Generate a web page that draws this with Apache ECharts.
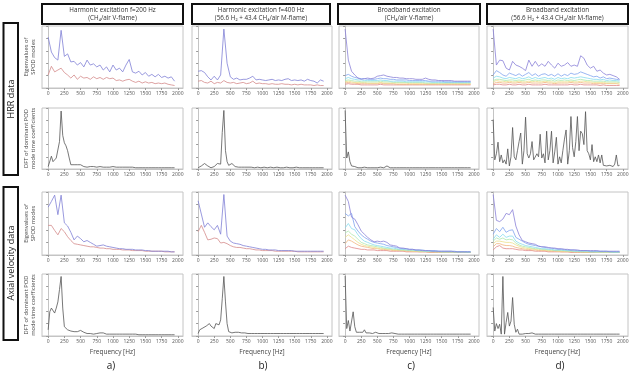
<!DOCTYPE html>
<html><head><meta charset="utf-8">
<script src="https://cdn.jsdelivr.net/npm/echarts@6/dist/echarts.min.js"></script>
<style>html,body{margin:0;padding:0;background:#fff}#c{width:635px;height:374px}</style>
</head><body><div id="c"></div>
<script>
// ---------------- data ----------------
const FREQ_SPOD = [0,50,100,150,200,250,300,350,400,450,500,550,600,650,700,750,800,850,900,950,1000,1050,1100,1150,1200,1250,1300,1350,1400,1450,1500,1550,1600,1650,1700,1750,1800,1850,1900,1950];
const FREQ_DFT = [0,25,50,75,100,125,150,175,200,225,250,275,300,325,350,375,400,425,450,475,500,525,550,575,600,625,650,675,700,725,750,775,800,825,850,875,900,925,950,975,1000,1025,1050,1075,1100,1125,1150,1175,1200,1225,1250,1275,1300,1325,1350,1375,1400,1425,1450,1475,1500,1525,1550,1575,1600,1625,1650,1675,1700,1725,1750,1775,1800,1825,1850,1875,1900,1925,1950];
const X_TICKS = [0,250,500,750,1000,1250,1500,1750,2000];

const COLUMN_TITLES = [
  'Harmonic excitation f=200 Hz\n(CH\u2084/air V-flame)',
  'Harmonic excitation f=400 Hz\n(56.6 H\u2082 + 43.4 CH\u2084/air M-flame)',
  'Broadband excitation\n(CH\u2084/air V-flame)',
  'Broadband excitation\n(56.6 H\u2082 + 43.4 CH\u2084/air M-flame)'
];
const ROW_GROUP_LABELS = ['HRR data', 'Axial velocity data'];
const Y_LABELS = ['Eigenvalues of\nSPOD modes', 'DFT of dominant POD\nmode time coefficients'];
const X_NAME = 'Frequency [Hz]';
const PANEL_LETTERS = ['a)', 'b)', 'c)', 'd)'];

// Row 1: SPOD eigenvalues, HRR
const A1_M1 = [82,58,49,45,93,51,55,42,43,37,41,34,45,37,39,34,37,29,34,26,37,29,32,26,37,46,26,24,27,21,25,19,22,18,22,17,19,16,18,11];
const A1_M2 = [21,35,26,29,32,25,21,16,21,14,19,16,17,14,18,15,17,14,17,15,16,12,13,11,13,14,11,9,11,8,10,8,9,7,8,7,8,6,5,4];
const B1_M1 = [27,28,25,18,13,19,13,21,95,40,18,14,16,13,14,14,16,19,13,14,13,12,13,14,12,13,12,14,15,12,13,12,13,11,14,12,11,8,13,11];
const B1_M2 = [11,12,9,8,11,7,9,8,12,9,8,9,7,8,9,7,8,11,7,8,7,7,6,7,6,6,7,6,6,5,6,5,6,5,5,5,4,5,4,4];
const C1_M1 = [95,45,27,21,16,14,15,16,15,16,19,20,21,19,18,17,17,16,16,15,15,15,14,14,14,16,14,13,13,12,12,12,12,12,11,11,11,11,11,11];
const C1_M2 = [20,22,19,17,16,15,15,14,14,14,15,16,15,15,14,14,13,13,13,13,12,12,12,12,12,12,11,11,11,11,11,10,10,10,10,10,10,10,10,10];
const C1_M3 = [15,17,15,14,13,13,12,12,12,12,12,13,12,12,11,11,11,11,11,10,10,10,10,10,10,10,10,9,9,9,9,9,9,9,9,9,9,9,9,9];
const C1_M4 = [12,13,12,11,11,10,10,10,10,10,10,11,10,10,10,9,9,9,9,9,9,9,9,9,9,8,8,8,8,8,8,8,8,8,8,8,8,8,8,8];
const C1_M5 = [10,11,10,9,9,9,9,8,8,8,8,9,8,8,8,8,8,8,8,8,7,7,7,7,7,7,7,7,7,7,7,7,7,7,7,7,7,7,7,7];
const C1_M6 = [8,9,8,8,7,7,7,7,7,7,7,8,7,7,7,7,6,6,6,6,6,6,6,6,6,6,6,6,6,6,6,6,6,6,6,6,6,6,6,6];
const C1_M7 = [6,7,6,6,6,5,5,5,5,5,5,6,5,5,5,5,5,5,5,5,5,5,5,5,5,5,5,5,5,5,5,5,5,5,5,5,5,5,5,5];
const D1_M1 = [95,37,45,44,32,29,43,37,35,32,28,45,35,43,35,39,35,43,37,32,40,35,37,41,35,37,35,52,48,37,32,35,27,29,24,21,22,20,18,14];
const D1_M2 = [21,28,25,21,19,24,22,20,23,19,22,25,20,23,19,22,23,20,22,19,23,19,22,20,24,22,23,26,24,22,20,18,19,16,18,15,16,15,14,13];
const D1_M3 = [16,19,18,16,15,17,16,15,17,15,16,18,15,17,15,16,17,15,16,14,17,15,16,15,17,16,17,18,17,16,15,14,14,13,14,12,13,12,12,11];
const D1_M4 = [12,14,14,13,12,13,13,12,13,12,13,14,12,13,12,13,13,12,13,11,13,12,13,12,13,12,13,14,13,12,12,11,11,11,11,10,10,10,10,9];
const D1_M5 = [10,12,11,11,10,11,10,10,11,10,10,11,10,11,10,10,11,10,10,9,10,10,10,10,11,10,10,11,11,10,10,9,9,9,9,8,8,8,8,8];
const D1_M6 = [7,9,9,8,8,9,8,8,9,8,8,9,8,8,8,8,9,8,8,7,8,8,8,8,9,8,8,9,8,8,8,7,7,7,7,7,7,7,7,6];
const D1_M7 = [5,6,6,5,5,6,5,5,6,5,5,6,5,5,5,5,6,5,5,5,5,5,5,5,6,5,5,6,5,5,5,5,5,4,5,4,4,4,4,4];

// Row 2: DFT, HRR
const A2_DFT = [4,5,21,12,10,18,15,45,95,55,43,38,30,18,7,7,7,7,7,7,7,6,4,3,3,3,4,5,4,3,3,3,4,3,3,4,3,3,3,3,4,3,3,3,3,3,3,3,3,4,3,3,3,2,2,2,2,2,2,2,2,2,2,2,2,2,2,2,2,2,2,2,2,2,2,2,2,2,2];
const B2_DFT = [2,3,5,7,9,7,5,3,2,3,4,6,9,6,8,60,96,30,12,6,8,9,6,4,4,3,3,3,3,3,2,3,3,3,2,2,3,3,2,2,3,3,2,2,3,3,2,2,3,3,3,2,2,2,3,3,3,2,2,2,2,3,2,2,2,2,2,2,2,2,2,2,2,2,2,2,2,2,2];
const C2_DFT = [96,18,28,12,5,4,4,3,2,3,2,2,3,2,2,2,2,2,2,2,2,2,3,4,2,2,5,2,2,2,2,2,2,2,2,2,2,2,2,2,2,2,2,2,2,2,2,2,2,2,2,2,2,2,2,2,2,2,2,2,2,2,2,2,2,2,2,2,2,2,2,2,2,2,2,2,2,2,2];
const D2_DFT = [81,15,25,44,12,23,10,15,8,33,5,20,68,20,15,30,45,59,8,30,85,25,18,25,45,15,12,25,20,57,18,25,10,62,15,30,62,10,28,52,8,20,10,30,49,64,8,30,86,35,20,45,86,30,62,58,40,94,30,25,15,40,12,20,12,23,10,23,6,8,5,4,6,5,4,8,23,5,6];

// Row 3: SPOD eigenvalues, axial velocity
const A3_M1 = [76,85,95,64,95,51,46,36,24,30,26,21,23,20,17,14,15,16,14,13,12,11,10,10,9,9,9,8,8,8,7,7,6,6,6,6,6,6,5,5];
const A3_M2 = [47,47,39,32,42,37,29,23,18,17,16,15,14,13,13,12,11,11,10,10,9,9,9,8,8,8,7,7,7,7,6,6,6,6,6,6,5,5,5,5];
const B3_M1 = [86,65,44,51,45,40,47,33,96,30,22,19,18,17,15,14,13,12,11,10,9,9,8,8,8,7,7,7,7,7,6,6,6,6,6,6,6,6,6,6];
const B3_M2 = [37,47,36,24,25,27,26,19,20,18,15,13,12,12,11,10,10,9,8,8,7,7,7,7,6,6,6,6,6,6,6,5,5,5,5,5,5,5,5,5];
const C3_M1 = [95,85,60,57,48,38,33,28,24,21,22,21,22,20,16,15,14,11,11,10,9,9,8,8,7,7,7,6,6,6,6,6,6,6,5,5,5,5,5,5];
const C3_M2 = [66,62,66,45,38,32,28,25,22,20,19,18,17,15,14,13,12,11,10,10,9,9,8,8,8,7,7,7,7,6,6,6,6,6,6,5,5,5,5,5];
const C3_M3 = [43,50,42,40,32,26,22,20,18,16,15,14,13,12,11,11,10,9,9,8,8,8,7,7,7,6,6,6,6,6,5,5,5,5,5,5,5,5,5,5];
const C3_M4 = [35,38,33,30,25,20,18,16,15,14,13,12,11,10,10,9,9,8,8,8,7,7,7,6,6,6,6,6,5,5,5,5,5,5,5,5,5,5,4,4];
const C3_M5 = [28,32,28,24,20,17,15,14,13,12,11,10,10,9,9,8,8,8,7,7,7,6,6,6,6,6,5,5,5,5,5,5,5,5,4,4,4,4,4,4];
const C3_M6 = [18,24,22,19,16,14,13,12,11,10,10,9,9,8,8,7,7,7,7,6,6,6,6,5,5,5,5,5,5,5,4,4,4,4,4,4,4,4,4,4];
const C3_M7 = [10,14,12,11,10,9,9,8,8,8,7,7,7,7,6,6,6,6,6,5,5,5,5,5,5,5,4,4,4,4,4,4,4,4,4,4,4,4,4,4];
const D3_M1 = [96,55,53,57,66,64,72,46,32,23,21,19,18,17,14,13,13,12,11,11,10,10,9,9,8,8,8,7,7,7,7,7,7,6,6,6,6,6,6,6];
const D3_M2 = [33,42,37,44,36,39,40,28,25,22,19,17,16,15,14,13,12,11,11,10,9,9,9,8,8,8,7,7,7,7,6,6,6,6,6,6,5,5,5,5];
const D3_M3 = [25,32,28,33,28,30,30,22,19,17,15,14,13,12,11,10,10,9,9,8,8,8,7,7,7,6,6,6,6,6,5,5,5,5,5,5,5,5,5,5];
const D3_M4 = [22,27,25,27,24,25,24,19,16,14,13,12,11,10,10,9,9,8,8,7,7,7,7,6,6,6,6,5,5,5,5,5,5,5,5,5,5,4,4,4];
const D3_M5 = [18,22,22,21,20,20,19,16,14,12,11,10,10,9,9,8,8,7,7,7,6,6,6,6,6,5,5,5,5,5,5,5,4,4,4,4,4,4,4,4];
const D3_M6 = [13,18,18,16,15,15,14,12,11,10,9,9,8,8,7,7,7,6,6,6,6,5,5,5,5,5,5,5,4,4,4,4,4,4,4,4,4,4,4,4];
const D3_M7 = [8,13,15,11,10,10,10,9,8,8,7,7,7,6,6,6,6,5,5,5,5,5,5,5,4,4,4,4,4,4,4,4,4,4,4,4,4,4,4,4];

// Row 4: DFT, axial velocity
const A4_DFT = [10,39,45,44,37,45,55,75,96,45,15,12,10,9,8,7,7,6,7,8,9,8,6,5,4,4,4,3,3,4,4,4,5,5,5,4,3,3,3,3,3,3,3,3,3,3,3,3,3,3,3,3,3,3,3,3,2,2,2,2,2,2,2,2,2,2,2,2,2,2,2,2,2,2,2,2,2,2,2];
const B4_DFT = [4,10,12,13,14,16,18,20,16,14,12,20,19,18,26,60,96,55,20,7,5,5,5,6,6,6,5,5,5,5,4,4,4,4,4,4,4,4,4,4,4,4,4,4,4,4,4,4,4,4,4,4,4,4,4,4,4,4,4,4,4,4,4,4,4,4,4,4,4,4,4,4,4,4,4,4,4,4,4];
const C4_DFT = [97,12,25,8,7,39,15,6,5,6,7,6,10,5,6,5,5,4,5,6,5,4,5,4,4,4,5,4,4,5,6,4,3,3,3,3,3,3,3,3,3,3,3,3,3,3,3,3,3,3,3,3,3,3,3,3,3,3,3,3,3,3,3,3,3,3,3,3,3,3,3,3,3,3,3,3,3,3,3];
const D4_DFT = [46,8,20,12,19,3,96,3,22,38,16,24,62,19,6,11,3,4,3,3,4,3,4,6,5,3,3,3,3,3,3,3,3,3,3,3,3,3,3,3,3,3,3,3,3,3,3,3,3,3,3,3,3,3,3,3,3,3,3,3,3,3,3,3,3,3,3,3,3,3,3,3,3,3,3,3,3,3,3];

// ---------------- styling / layout ----------------
const HARM_COLORS = ['#8080d6', '#d48a8a'];
const BB_COLORS = ['#8a82d8', '#7fa3ef', '#88dcef', '#ade9b0', '#ece08c', '#f1b57e', '#df8888'];
const DFT_COLOR = '#555555';

const COLS = [{left: 42, width: 141}, {left: 192, width: 140}, {left: 339, width: 140}, {left: 487, width: 141}];
const ROWS = [{top: 26, height: 62}, {top: 108, height: 61}, {top: 192, height: 63}, {top: 274, height: 62}];

const PANEL_SERIES = [
  [[A1_M1, A1_M2], [B1_M1, B1_M2], [C1_M1, C1_M2, C1_M3, C1_M4, C1_M5, C1_M6, C1_M7], [D1_M1, D1_M2, D1_M3, D1_M4, D1_M5, D1_M6, D1_M7]],
  [[A2_DFT], [B2_DFT], [C2_DFT], [D2_DFT]],
  [[A3_M1, A3_M2], [B3_M1, B3_M2], [C3_M1, C3_M2, C3_M3, C3_M4, C3_M5, C3_M6, C3_M7], [D3_M1, D3_M2, D3_M3, D3_M4, D3_M5, D3_M6, D3_M7]],
  [[A4_DFT], [B4_DFT], [C4_DFT], [D4_DFT]]
];

function zip(xs, ys) { return ys.map((v, i) => [xs[i], v]); }

const FONT = '"Open Sans", "DejaVu Sans", sans-serif';
const grids = [], xAxes = [], yAxes = [], series = [];
for (let r = 0; r < 4; r++) {
  for (let c = 0; c < 4; c++) {
    const idx = r * 4 + c;
    grids.push({left: COLS[c].left, top: ROWS[r].top, width: COLS[c].width, height: ROWS[r].height,
      show: true, borderColor: '#c4c4c4', borderWidth: 1, backgroundColor: '#fff'});
    xAxes.push({gridIndex: idx, type: 'value', min: -95, max: 2080,
      axisLine: {show: true, lineStyle: {color: '#c4c4c4', width: 1}},
      axisTick: {show: true, customValues: X_TICKS, length: 2, lineStyle: {color: '#999'}},
      axisLabel: {customValues: X_TICKS, fontSize: 5, color: '#555', margin: 3, fontFamily: FONT,
        formatter: (v) => String(v)},
      splitLine: {show: false},
      name: r === 3 ? X_NAME : '', nameLocation: 'middle', nameGap: 13,
      nameTextStyle: {fontSize: 6.5, color: '#444', fontFamily: FONT}});
    yAxes.push({gridIndex: idx, type: 'value', min: 0, max: 100, interval: 20,
      axisLine: {show: true, lineStyle: {color: '#c4c4c4', width: 1}},
      axisTick: {show: true, length: 2, lineStyle: {color: '#999'}},
      axisLabel: {show: false}, splitLine: {show: false}});
    const isDft = (r === 1 || r === 3);
    const list = PANEL_SERIES[r][c];
    list.forEach((vals, k) => {
      const color = isDft ? DFT_COLOR : (list.length > 2 ? BB_COLORS[k] : HARM_COLORS[k]);
      series.push({type: 'line', xAxisIndex: idx, yAxisIndex: idx,
        data: zip(isDft ? FREQ_DFT : FREQ_SPOD, vals),
        showSymbol: false, symbol: 'none', silent: true, z: 10 - k,
        lineStyle: {color: color, width: 0.8}});
    });
  }
}

const graphics = [];
// column title boxes
const TITLE_BOXES = [{x: 42, w: 141}, {x: 192, w: 138}, {x: 338, w: 142}, {x: 487, w: 141}];
TITLE_BOXES.forEach((b, i) => {
  graphics.push({type: 'rect', shape: {x: b.x, y: 4, width: b.w, height: 20},
    style: {fill: '#fff', stroke: '#111', lineWidth: 2}});
  graphics.push({type: 'text', x: b.x + b.w / 2, y: 14,
    style: {text: COLUMN_TITLES[i], fontSize: 6.3, lineHeight: 8, fill: '#333', fontFamily: FONT,
      textAlign: 'center', textVerticalAlign: 'middle'}});
});
// row group boxes
const GROUP_BOXES = [{y: 23, h: 152}, {y: 187, h: 153}];
GROUP_BOXES.forEach((g, i) => {
  graphics.push({type: 'rect', shape: {x: 3.5, y: g.y, width: 14.5, height: g.h},
    style: {fill: '#fff', stroke: '#111', lineWidth: 2}});
  graphics.push({type: 'text', x: 11, y: i === 0 ? 99 : 263, rotation: Math.PI / 2,
    style: {text: ROW_GROUP_LABELS[i], fontSize: 9, fill: '#222', fontFamily: FONT,
      textAlign: 'center', textVerticalAlign: 'middle'}});
});
// y-axis names (first column only)
ROWS.forEach((row, r) => {
  graphics.push({type: 'text', x: 30, y: row.top + row.height / 2, rotation: Math.PI / 2,
    style: {text: Y_LABELS[r % 2], fontSize: 5.8, lineHeight: 7, fill: '#444', fontFamily: FONT,
      textAlign: 'center', textVerticalAlign: 'middle'}});
});
// panel letters
const LETTER_X = [111, 263, 411, 560];
LETTER_X.forEach((x, i) => {
  graphics.push({type: 'text', x: x, y: 366,
    style: {text: PANEL_LETTERS[i], fontSize: 10, fill: '#222', fontFamily: FONT,
      textAlign: 'center', textVerticalAlign: 'middle'}});
});

const chart = echarts.init(document.getElementById('c'), null, {renderer: 'canvas'});
chart.setOption({
  animation: false,
  backgroundColor: '#fff',
  grid: grids, xAxis: xAxes, yAxis: yAxes, series: series,
  graphic: graphics
});
</script></body></html>
